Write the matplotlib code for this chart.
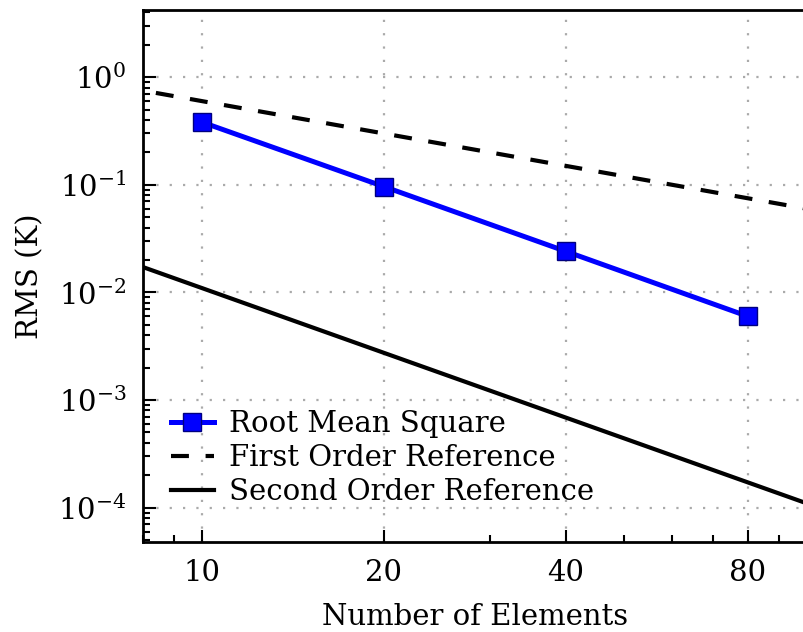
import math
import matplotlib
matplotlib.use("Agg")
import matplotlib.pyplot as plt
from matplotlib.ticker import FixedLocator, FuncFormatter, LogLocator, NullFormatter

# Data
n_elements = [10, 20, 40, 80]
rms = [0.383, 0.0964, 0.0241, 0.0060]
ref_n = [5, 200]
first_order_ref = [1.2, 0.03]          # ~6/N
second_order_ref = [0.044, 0.0000275]  # ~1.1/N^2
xtick_vals = [10, 20, 40, 80]
xtick_labels = ["10", "20", "40", "80"]

plt.rcParams['font.family'] = ['DejaVu Serif']
plt.rcParams['mathtext.fontset'] = 'dejavuserif'

fig = plt.figure(figsize=(8.04, 6.32), dpi=100)
ax = fig.add_axes([0.178, 0.1424, 1.003 - 0.178, 0.984 - 0.1424])

ax.plot(n_elements, rms, color='#0000ff', lw=3.6, marker='s', ms=13,
        mfc='#0000ff', mec='#000080', mew=1, label='Root Mean Square', zorder=4)
ax.plot(ref_n, first_order_ref, color='black', lw=3, ls=(0, (4.3, 4.0)),
        label='First Order Reference', zorder=3)
ax.plot(ref_n, second_order_ref, color='black', lw=3, ls='-',
        label='Second Order Reference', zorder=3)

ax.set_xscale('log')
ax.set_yscale('log')
ax.set_xlim(8, 100)
ax.set_ylim(4.8e-5, 4.2)

ax.xaxis.set_major_locator(FixedLocator(xtick_vals))
ax.xaxis.set_major_formatter(FuncFormatter(
    lambda v, p: xtick_labels[xtick_vals.index(int(round(v)))] if int(round(v)) in xtick_vals else ""))
ax.xaxis.set_minor_locator(FixedLocator([8, 9, 30, 50, 60, 70, 90]))
ax.xaxis.set_minor_formatter(NullFormatter())

ax.yaxis.set_major_locator(LogLocator(base=10, numticks=10))
ax.yaxis.set_minor_locator(LogLocator(base=10, subs=range(2, 10), numticks=20))
ax.yaxis.set_minor_formatter(NullFormatter())
ax.yaxis.set_major_formatter(FuncFormatter(lambda v, p: r'$\mathdefault{10^{%d}}$' % round(math.log10(v))))

ax.tick_params(which='both', direction='in', width=1.5, labelsize=21, top=False, right=False)
ax.tick_params(which='major', length=9, pad=12)
ax.tick_params(which='minor', length=5)
for s in ax.spines.values():
    s.set_linewidth(2)

ax.grid(True, which='major', color='#aaaaaa', ls=(0, (1, 5)), lw=1.6)

ax.set_xlabel('Number of Elements', fontsize=21, labelpad=12)
ax.set_ylabel('RMS (K)', fontsize=21, labelpad=10)

ax.legend(loc='lower left', frameon=False, fontsize=21, handlelength=1.5,
          handletextpad=0.5, labelspacing=0.2, borderaxespad=0.2,
          bbox_to_anchor=(0.015, 0.035))

fig.savefig('out.png', dpi=100)
